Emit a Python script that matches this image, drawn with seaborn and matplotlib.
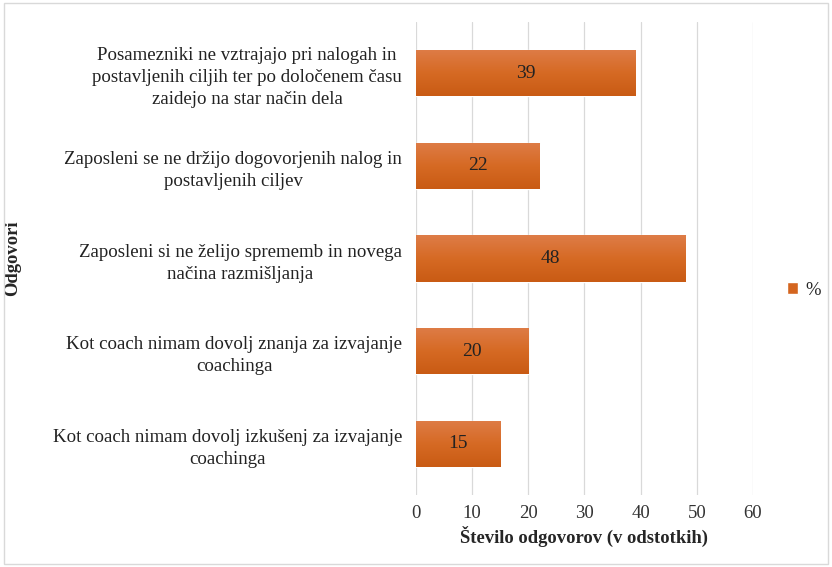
import numpy as np
import pandas as pd
import seaborn as sns
import matplotlib.pyplot as plt
from matplotlib.patches import Patch, Rectangle

answers = [
    "Posamezniki ne vztrajajo pri nalogah in\npostavljenih ciljih ter po določenem času\nzaidejo na star način dela",
    "Zaposleni se ne držijo dogovorjenih nalog in\npostavljenih ciljev",
    "Zaposleni si ne želijo sprememb in novega\nnačina razmišljanja",
    "Kot coach nimam dovolj znanja za izvajanje\ncoachinga",
    "Kot coach nimam dovolj izkušenj za izvajanje\ncoachinga",
]
percent = [39, 22, 48, 20, 15]
x_ticks = [0, 10, 20, 30, 40, 50, 60]

BAR_COLOR = "#D4651F"

df = pd.DataFrame({"answer": answers, "percent": percent})

sns.set_style("white")
plt.rcParams["font.family"] = ["Liberation Serif", "DejaVu Serif"]

fig = plt.figure(figsize=(8.32, 5.67), dpi=100)
ax = fig.add_axes([0.5, 0.127, 0.405, 0.834])

sns.barplot(data=df, y="answer", x="percent", orient="h", color=BAR_COLOR,
            width=0.5, saturation=1, ax=ax)

# soft vertical gradient on each bar, like the office chart style
grad = np.linspace(0, 1, 64).reshape(-1, 1)
cmap = sns.blend_palette(["#DE7C47", "#D66A24", "#C95B14"], as_cmap=True)
for bar in ax.patches:
    x0, y0 = bar.get_x(), bar.get_y()
    w, h = bar.get_width(), bar.get_height()
    im = ax.imshow(grad, extent=[x0, x0 + w, y0 + h, y0], aspect="auto",
                   cmap=cmap, zorder=bar.get_zorder() + 0.1)
    im.set_clip_path(bar)
    ax.text(x0 + w / 2, y0 + h / 2, f"{int(w)}", ha="center", va="center",
            fontsize=14, color="#222222", zorder=5)

ax.set_xlim(0, 60)
ax.set_ylim(4.55, -0.55)
ax.set_xticks(x_ticks)
ax.set_xticklabels([str(t) for t in x_ticks], fontsize=13.5, color="#333333")
ax.tick_params(axis="y", labelsize=13.6, length=0, pad=10)
ax.tick_params(axis="x", length=0, pad=7)
for lab in ax.get_yticklabels():
    lab.set_multialignment("center")
    lab.set_color("#222222")
    lab.set_linespacing(1.4)

ax.grid(axis="x", color="#D9D9D9", linewidth=0.9)
ax.set_axisbelow(True)
for s in ax.spines.values():
    s.set_visible(False)

ax.set_xlabel("Število odgovorov (v odstotkih)", fontsize=13.4,
              fontweight="bold", labelpad=3)
ax.set_ylabel("Odgovori", fontsize=13.4, fontweight="bold")
ax.yaxis.set_label_coords(-1.172, 0.5)

fig.legend(handles=[Patch(facecolor=BAR_COLOR, label="%")], loc="center",
           bbox_to_anchor=(0.966, 0.488), frameon=False, fontsize=13.4,
           handlelength=0.6, handleheight=0.6, handletextpad=0.4)

fig.patches.append(Rectangle((0.005, 0.006), 0.99, 0.988, transform=fig.transFigure,
                             fill=False, edgecolor="#D9D9D9", linewidth=1))

fig.savefig("out.png", dpi=100)
